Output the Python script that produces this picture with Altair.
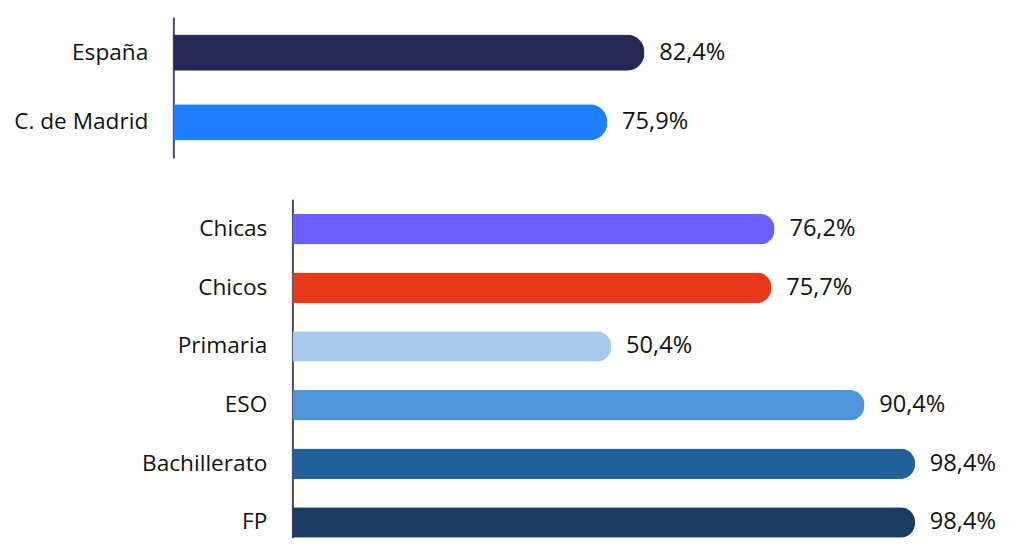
import altair as alt
import pandas as pd

top_labels = ["España", "C. de Madrid"]
top_values = [82.4, 75.9]
top_colors = ["#262855", "#1F7FFF"]

bottom_labels = ["Chicas", "Chicos", "Primaria", "ESO", "Bachillerato", "FP"]
bottom_values = [76.2, 75.7, 50.4, 90.4, 98.4, 98.4]
bottom_colors = ["#6A5FFF", "#E8391A", "#A7CAEC", "#4F96D9", "#22609A", "#1A3C62"]


def fmt(v):
    return f"{v:.1f}".replace(".", ",") + "%"


top_df = pd.DataFrame({"cat": top_labels, "val": top_values, "color": top_colors,
                       "label": [fmt(v) for v in top_values]})
bottom_df = pd.DataFrame({"cat": bottom_labels, "val": bottom_values, "color": bottom_colors,
                          "label": [fmt(v) for v in bottom_values]})

FONT = "Open Sans"
W = 760
SHIFT = 121


def panel(df, height, xdomain, pi, po, align, radius, offset):
    y = alt.Y("cat:N", sort=list(df["cat"]),
              scale=alt.Scale(paddingInner=pi, paddingOuter=po, align=align),
              axis=alt.Axis(title=None, ticks=False, grid=False, labelFont=FONT, labelFontSize=23,
                            labelColor="#111111", labelPadding=26, domainColor="#44466a",
                            domainWidth=2, offset=offset, labelLimit=300))
    x = alt.X("val:Q", scale=alt.Scale(domain=xdomain, nice=False), axis=None)
    base = alt.Chart(df).encode(y=y, x=x)
    bars = base.mark_bar(cornerRadiusEnd=radius).encode(color=alt.Color("color:N", scale=None))
    text = base.mark_text(align="left", baseline="middle", dx=15, font=FONT, fontSize=24,
                          color="#111111").encode(text="label:N")
    return (bars + text).properties(width=W, height=height)


top = panel(top_df, 143, [0, W / 5.81], 0.48, 0.25, 0.5, 18, 0)
bottom = panel(bottom_df, 344, [-SHIFT / 6.43, (W - SHIFT) / 6.43], 0.48, 0.1254, 1, 15, -SHIFT)

chart = alt.vconcat(top, bottom, spacing=42).resolve_scale(
    x="independent", y="independent"
).configure_view(stroke=None).properties(
    padding={"left": 5, "top": 5, "right": 5, "bottom": 0}
)

chart.save("out.html", embed_options={"renderer": "svg", "actions": False})
